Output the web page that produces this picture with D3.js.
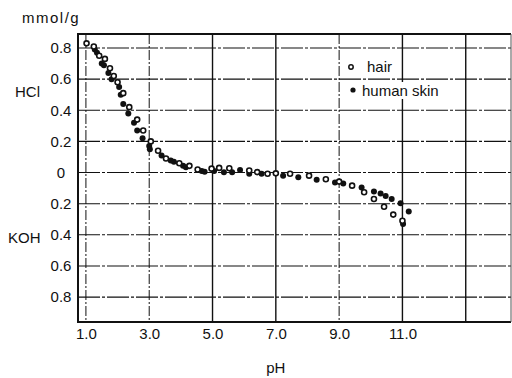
<!DOCTYPE html>
<meta charset="utf-8">
<style>
body { margin: 0; background: #fff; }
svg text { font-family: "Liberation Sans", Arial, sans-serif; font-size: 15px; fill: #111; }
.grid line { stroke: #111; }
</style>
<body>
<div id="chart"></div>
<script src="https://d3js.org/d3.v7.min.js"></script>
<script>
// pH vs mmol/g (HCl positive, KOH negative)
var hair = [
  [1.02,0.83],[1.25,0.81],[1.42,0.75],[1.6,0.73],[1.76,0.67],[1.88,0.62],[2.0,0.58],
  [2.18,0.51],[2.37,0.42],[2.62,0.34],[2.81,0.27],[3.05,0.20],[3.28,0.14],[3.53,0.09],
  [3.95,0.06],[4.27,0.043],[4.53,0.02],[4.97,0.025],[5.21,0.03],[5.53,0.028],[6.16,0.013],
  [6.41,0.003],[6.74,-0.008],[7.0,-0.005],[7.45,-0.008],[8.05,-0.02],[8.58,-0.043],
  [9.0,-0.058],[9.41,-0.084],[9.79,-0.127],[10.1,-0.17],[10.42,-0.22],[10.71,-0.27],[11.0,-0.31]
];
var skin = [
  [1.28,0.79],[1.35,0.77],[1.5,0.70],[1.57,0.69],[1.71,0.64],[1.81,0.60],[2.05,0.55],
  [2.1,0.50],[2.18,0.44],[2.34,0.38],[2.52,0.32],[2.62,0.27],[2.79,0.22],[3.0,0.17],
  [3.02,0.15],[3.39,0.11],[3.68,0.077],[3.78,0.07],[4.07,0.043],[4.16,0.034],[4.66,0.01],
  [4.75,0.005],[5.05,0.01],[5.36,0.002],[5.62,0.002],[5.87,0.017],[6.16,-0.008],[6.55,-0.008],
  [7.23,-0.02],[7.71,-0.03],[8.29,-0.047],[8.87,-0.064],[9.13,-0.07],[9.71,-0.096],
  [10.1,-0.122],[10.31,-0.135],[10.47,-0.15],[10.66,-0.17],[10.94,-0.197],[11.02,-0.33],[11.2,-0.25]
];
var xTicks = [1, 3, 5, 7, 9, 11];
var xGrid = [1, 3, 5, 7, 9, 11, 13];
var yTicks = [0.8, 0.6, 0.4, 0.2, 0, -0.2, -0.4, -0.6, -0.8];

var width = 512, height = 378;
var pLeft = 78, pRight = 511, pTop = 34, pBottom = 322;

var x = d3.scaleLinear().domain([0.75, 14.43]).range([pLeft, pRight]);
var y = d3.scaleLinear().domain([-0.96, 0.89]).range([pBottom, pTop]);

var svg = d3.select("#chart").append("svg")
  .attr("width", width)
  .attr("height", height);

// grid
var grid = svg.append("g").attr("class", "grid");
grid.selectAll(".h").data(yTicks).enter().append("line")
  .attr("x1", pLeft).attr("x2", pRight)
  .attr("y1", function(d) { return y(d); })
  .attr("y2", function(d) { return y(d); })
  .attr("stroke-width", 1.1)
  .attr("stroke-dasharray", "22,2,3,2");
grid.selectAll(".v").data(xGrid).enter().append("line")
  .attr("y1", pTop).attr("y2", pBottom)
  .attr("x1", function(d) { return x(d); })
  .attr("x2", function(d) { return x(d); })
  .attr("stroke-width", function(d) { return (d == 1 || d == 3 || d == 9) ? 1 : 1.4; })
  .attr("stroke-dasharray", function(d) { return (d == 1 || d == 3 || d == 9) ? "10,2,2,2" : null; });

// frame
svg.append("line").attr("x1", pLeft).attr("x2", pLeft).attr("y1", pTop - 1).attr("y2", pBottom + 1)
  .attr("stroke", "#111").attr("stroke-width", 2);
svg.append("line").attr("x1", pLeft).attr("x2", pRight).attr("y1", pTop).attr("y2", pTop)
  .attr("stroke", "#111").attr("stroke-width", 2);
svg.append("line").attr("x1", pLeft).attr("x2", pRight).attr("y1", pBottom).attr("y2", pBottom)
  .attr("stroke", "#111").attr("stroke-width", 2);
svg.append("line").attr("x1", pRight).attr("x2", pRight).attr("y1", pTop).attr("y2", pBottom)
  .attr("stroke", "#555").attr("stroke-width", 1);

// axes labels
var xAxis = svg.append("g")
  .attr("transform", "translate(0," + pBottom + ")")
  .call(d3.axisBottom(x).tickValues(xTicks).tickSize(0).tickPadding(6)
    .tickFormat(function(d) { return d3.format(".1f")(d); }));
xAxis.select(".domain").remove();
xAxis.attr("font-size", null).attr("font-family", null);

var yAxis = svg.append("g")
  .attr("transform", "translate(61,0)")
  .call(d3.axisLeft(y).tickValues(yTicks).tickSize(0).tickPadding(0)
    .tickFormat(function(d) { return d == 0 ? "0" : d3.format(".1f")(Math.abs(d)); }));
yAxis.select(".domain").remove();
yAxis.attr("font-size", null).attr("font-family", null);
yAxis.selectAll("text").attr("text-anchor", "middle");

svg.append("text").attr("x", 22).attr("y", 23).attr("letter-spacing", 1.5).text("mmol/g");
svg.append("text").attr("x", 15).attr("y", 97).text("HCl");
svg.append("text").attr("x", 8).attr("y", 243).text("KOH");
svg.append("text").attr("x", x(7)).attr("y", 373).attr("text-anchor", "middle").text("pH");

// points
svg.append("g").selectAll("circle").data(skin).enter().append("circle")
  .attr("cx", function(d) { return x(d[0]); })
  .attr("cy", function(d) { return y(d[1]); })
  .attr("r", 3)
  .attr("fill", "#111");
svg.append("g").selectAll("circle").data(hair).enter().append("circle")
  .attr("cx", function(d) { return x(d[0]); })
  .attr("cy", function(d) { return y(d[1]); })
  .attr("r", 2.5)
  .attr("fill", "#fff")
  .attr("stroke", "#111")
  .attr("stroke-width", 1.6);

// legend
var lg = svg.append("g");
lg.append("rect").attr("x", 358).attr("y", 82).attr("width", 92).attr("height", 17).attr("fill", "#fff");
lg.append("circle").attr("cx", 351).attr("cy", 67).attr("r", 2.2)
  .attr("fill", "#fff").attr("stroke", "#111").attr("stroke-width", 1.5);
lg.append("text").attr("x", 367).attr("y", 72).attr("font-size", 16).text("hair");
lg.append("circle").attr("cx", 353).attr("cy", 90).attr("r", 2.6).attr("fill", "#111");
lg.append("text").attr("x", 362).attr("y", 96).attr("font-size", 16).text("human skin");
</script>
</body>
